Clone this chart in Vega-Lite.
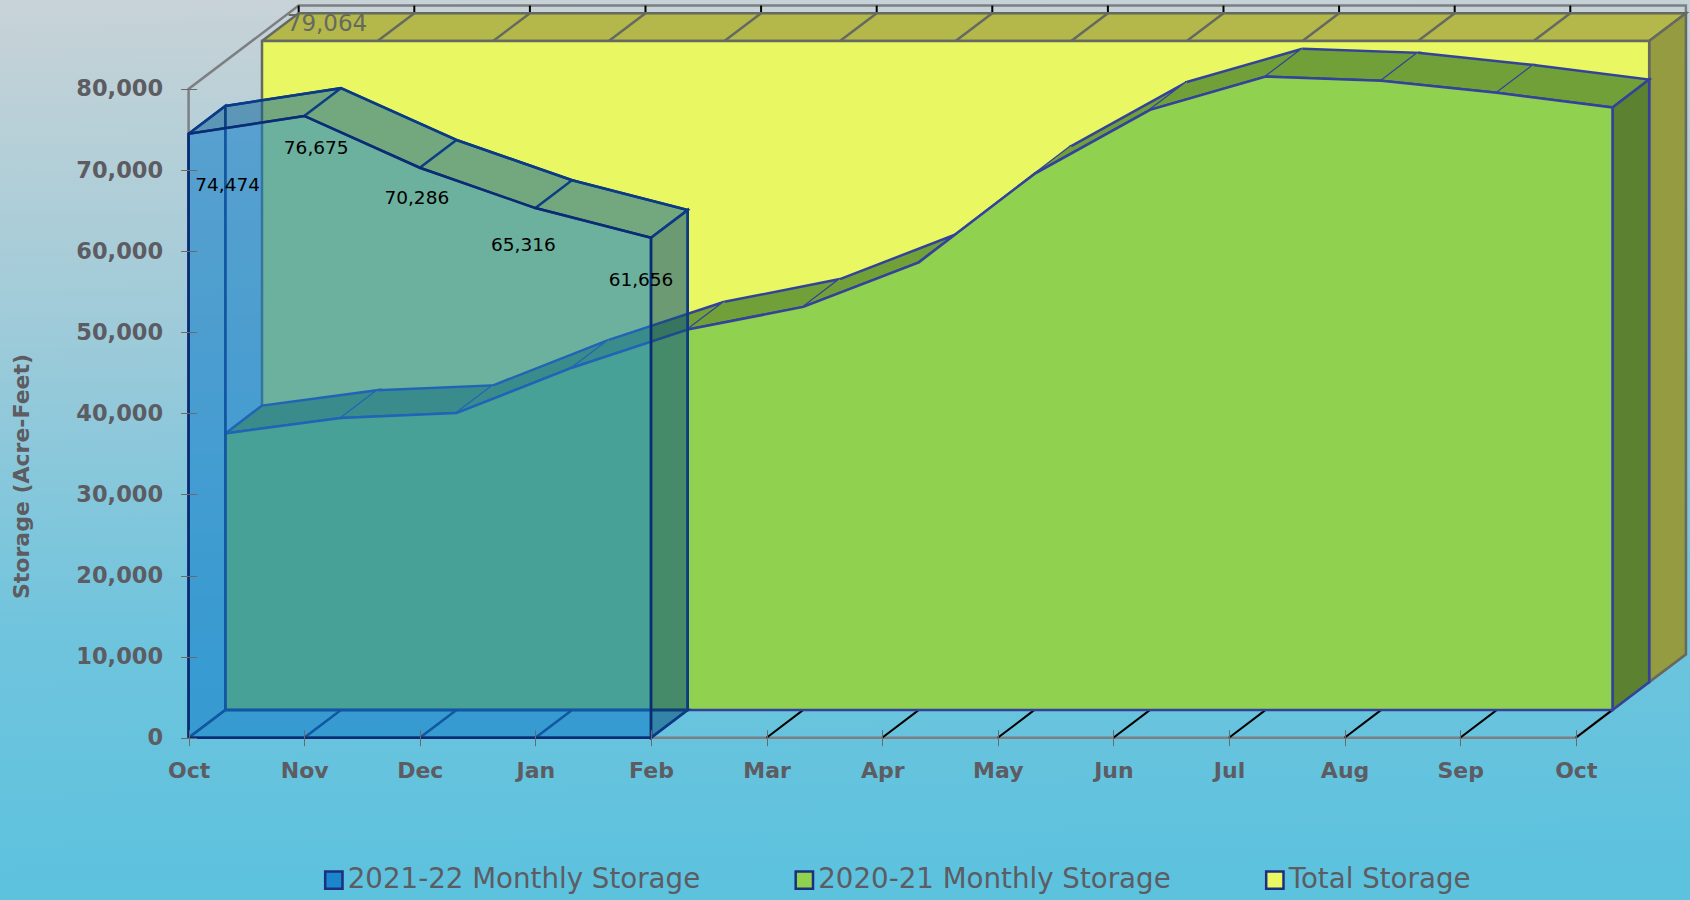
{"$schema":"https://vega.github.io/schema/vega-lite/v6.json","width":1690,"height":900,"padding":0,"autosize":"none","config":{"view":{"stroke":null},"font":"DejaVu Sans"},
"layer":[
{"data":{"values":[{}]},"mark":{"type":"rect","fill":{"gradient":"linear","x1":0,"y1":0,"x2":0.03,"y2":1,"stops":[{"offset":0,"color":"#c8d3d7"},{"offset":0.35,"color":"#a0cbd9"},{"offset":0.7,"color":"#70c4dd"},{"offset":1,"color":"#5cc2de"}]}},"encoding":{}},
{"encoding":{
"x":{"field":"px","type":"quantitative","scale":{"domain":[-1.6315,12.988],"nice":false,"zero":false},"axis":{"orient":"bottom","offset":-170.3,"zindex":1,"values":[0,1,2,3,4,5,6,7,8,9,10,11,12],"labelExpr":"['Oct','Nov','Dec','Jan','Feb','Mar','Apr','May','Jun','Jul','Aug','Sep','Oct'][datum.value]","title":null,"grid":false,"domain":false,"tickSize":16,"tickColor":"#6a6a6a","tickWidth":1,"labelFont":"DejaVu Sans","labelFontWeight":"bold","labelFontSize":22,"labelColor":"#5c5c62","labelPadding":15,"labelFlush":false,"labelOverlap":false}},
"y":{"field":"py","type":"quantitative","scale":{"domain":[-20015,90975],"nice":false,"zero":false},"axis":{"orient":"left","offset":-196.6,"zindex":1,"values":[0,10000,20000,30000,40000,50000,60000,70000,80000],"format":",d","title":"Storage (Acre-Feet)","titleX":-163,"titleY":476,"titleFont":"DejaVu Sans","titleFontWeight":"bold","titleFontSize":22,"titleColor":"#5c5c62","grid":false,"domain":false,"tickSize":16,"tickColor":"#6a6a6a","tickWidth":1,"labelFont":"DejaVu Sans","labelFontWeight":"bold","labelFontSize":22.5,"labelColor":"#5c5c62","labelPadding":18,"labelOverlap":false}},
"order":{"field":"s","type":"quantitative"},
"detail":{"field":"p"},
"fill":{"field":"f","type":"nominal","scale":{"domain":["2021-22 Monthly Storage","2020-21 Monthly Storage","Total Storage","yt","ys","gt","gs","bb","bl","bfl","bt","bs","n"],"range":["#1c86cc","#90d250","#e9f763","#b4b84b","#959b40","#72a038","#5c8231","rgba(2,111,194,0.33)","rgba(2,111,194,0.33)","rgba(2,111,194,0.33)","rgba(20,90,120,0.3)","rgba(20,70,90,0.36)","transparent"]},"legend":{"title":null,"values":["2021-22 Monthly Storage","2020-21 Monthly Storage","Total Storage"],"orient":"none","legendX":320,"legendY":866,"direction":"horizontal","columns":3,"columnPadding":89.5,"symbolType":"square","symbolSize":300,"symbolStrokeColor":"#1c2f80","symbolStrokeWidth":2.5,"symbolOpacity":1,"labelFont":"DejaVu Sans","labelFontSize":27.7,"labelColor":"#5c5c62","labelLimit":500,"labelOffset":0}}
},
"layer":[
{"transform":[{"calculate":"datum.m+datum.d*0.31747","as":"px"},{"calculate":"datum.v+datum.d*3428.4","as":"py"}],"data":{"values":[{"p":"fr","s":0,"m":0,"v":0,"d":0,"f":"n"},{"p":"fr","s":1,"m":0,"v":80000,"d":0,"f":"n"},{"p":"fr","s":2,"m":0,"v":80000,"d":3,"f":"n"},{"p":"fr","s":3,"m":12,"v":80000,"d":3,"f":"n"},{"p":"fr","s":4,"m":12,"v":0,"d":3,"f":"n"},{"p":"fr","s":5,"m":12,"v":0,"d":0,"f":"n"},{"p":"fr","s":6,"m":0,"v":0,"d":0,"f":"n"}]},"mark":{"type":"line","stroke":"#7d7f82","strokeWidth":2.5}},
{"transform":[{"calculate":"datum.m+datum.d*0.31747","as":"px"},{"calculate":"datum.v+datum.d*3428.4","as":"py"}],"data":{"values":[{"p":"t0","s":0,"m":0,"v":80000,"d":3,"f":"n"},{"p":"t0","s":1,"m":0,"v":79064,"d":3,"f":"n"},{"p":"t1","s":0,"m":1,"v":80000,"d":3,"f":"n"},{"p":"t1","s":1,"m":1,"v":79064,"d":3,"f":"n"},{"p":"t2","s":0,"m":2,"v":80000,"d":3,"f":"n"},{"p":"t2","s":1,"m":2,"v":79064,"d":3,"f":"n"},{"p":"t3","s":0,"m":3,"v":80000,"d":3,"f":"n"},{"p":"t3","s":1,"m":3,"v":79064,"d":3,"f":"n"},{"p":"t4","s":0,"m":4,"v":80000,"d":3,"f":"n"},{"p":"t4","s":1,"m":4,"v":79064,"d":3,"f":"n"},{"p":"t5","s":0,"m":5,"v":80000,"d":3,"f":"n"},{"p":"t5","s":1,"m":5,"v":79064,"d":3,"f":"n"},{"p":"t6","s":0,"m":6,"v":80000,"d":3,"f":"n"},{"p":"t6","s":1,"m":6,"v":79064,"d":3,"f":"n"},{"p":"t7","s":0,"m":7,"v":80000,"d":3,"f":"n"},{"p":"t7","s":1,"m":7,"v":79064,"d":3,"f":"n"},{"p":"t8","s":0,"m":8,"v":80000,"d":3,"f":"n"},{"p":"t8","s":1,"m":8,"v":79064,"d":3,"f":"n"},{"p":"t9","s":0,"m":9,"v":80000,"d":3,"f":"n"},{"p":"t9","s":1,"m":9,"v":79064,"d":3,"f":"n"},{"p":"t10","s":0,"m":10,"v":80000,"d":3,"f":"n"},{"p":"t10","s":1,"m":10,"v":79064,"d":3,"f":"n"},{"p":"t11","s":0,"m":11,"v":80000,"d":3,"f":"n"},{"p":"t11","s":1,"m":11,"v":79064,"d":3,"f":"n"},
{"p":"k5","s":0,"m":5,"v":0,"d":0,"f":"n"},{"p":"k5","s":1,"m":5,"v":0,"d":1,"f":"n"},{"p":"k6","s":0,"m":6,"v":0,"d":0,"f":"n"},{"p":"k6","s":1,"m":6,"v":0,"d":1,"f":"n"},{"p":"k7","s":0,"m":7,"v":0,"d":0,"f":"n"},{"p":"k7","s":1,"m":7,"v":0,"d":1,"f":"n"},{"p":"k8","s":0,"m":8,"v":0,"d":0,"f":"n"},{"p":"k8","s":1,"m":8,"v":0,"d":1,"f":"n"},{"p":"k9","s":0,"m":9,"v":0,"d":0,"f":"n"},{"p":"k9","s":1,"m":9,"v":0,"d":1,"f":"n"},{"p":"k10","s":0,"m":10,"v":0,"d":0,"f":"n"},{"p":"k10","s":1,"m":10,"v":0,"d":1,"f":"n"},{"p":"k11","s":0,"m":11,"v":0,"d":0,"f":"n"},{"p":"k11","s":1,"m":11,"v":0,"d":1,"f":"n"},{"p":"k12","s":0,"m":12,"v":0,"d":0,"f":"n"},{"p":"k12","s":1,"m":12,"v":0,"d":1,"f":"n"}]},"mark":{"type":"line","stroke":"#000000","strokeWidth":2}},
{"transform":[{"calculate":"datum.m+datum.d*0.31747","as":"px"},{"calculate":"datum.v+datum.d*3428.4","as":"py"}],"data":{"values":[{"p":"yt","s":0,"m":0,"v":79064,"d":2,"f":"yt"},{"p":"yt","s":1,"m":12,"v":79064,"d":2,"f":"yt"},{"p":"yt","s":2,"m":12,"v":79064,"d":3,"f":"yt"},{"p":"yt","s":3,"m":0,"v":79064,"d":3,"f":"yt"},{"p":"yt","s":4,"m":0,"v":79064,"d":2,"f":"yt"},
{"p":"ys","s":0,"m":12,"v":79064,"d":2,"f":"ys"},{"p":"ys","s":1,"m":12,"v":79064,"d":3,"f":"ys"},{"p":"ys","s":2,"m":12,"v":0,"d":3,"f":"ys"},{"p":"ys","s":3,"m":12,"v":0,"d":2,"f":"ys"},{"p":"ys","s":4,"m":12,"v":79064,"d":2,"f":"ys"},
{"p":"y1","s":0,"m":1,"v":79064,"d":2,"f":"n"},{"p":"y1","s":1,"m":1,"v":79064,"d":3,"f":"n"},{"p":"y2","s":0,"m":2,"v":79064,"d":2,"f":"n"},{"p":"y2","s":1,"m":2,"v":79064,"d":3,"f":"n"},{"p":"y3","s":0,"m":3,"v":79064,"d":2,"f":"n"},{"p":"y3","s":1,"m":3,"v":79064,"d":3,"f":"n"},{"p":"y4","s":0,"m":4,"v":79064,"d":2,"f":"n"},{"p":"y4","s":1,"m":4,"v":79064,"d":3,"f":"n"},{"p":"y5","s":0,"m":5,"v":79064,"d":2,"f":"n"},{"p":"y5","s":1,"m":5,"v":79064,"d":3,"f":"n"},{"p":"y6","s":0,"m":6,"v":79064,"d":2,"f":"n"},{"p":"y6","s":1,"m":6,"v":79064,"d":3,"f":"n"},{"p":"y7","s":0,"m":7,"v":79064,"d":2,"f":"n"},{"p":"y7","s":1,"m":7,"v":79064,"d":3,"f":"n"},{"p":"y8","s":0,"m":8,"v":79064,"d":2,"f":"n"},{"p":"y8","s":1,"m":8,"v":79064,"d":3,"f":"n"},{"p":"y9","s":0,"m":9,"v":79064,"d":2,"f":"n"},{"p":"y9","s":1,"m":9,"v":79064,"d":3,"f":"n"},{"p":"y10","s":0,"m":10,"v":79064,"d":2,"f":"n"},{"p":"y10","s":1,"m":10,"v":79064,"d":3,"f":"n"},{"p":"y11","s":0,"m":11,"v":79064,"d":2,"f":"n"},{"p":"y11","s":1,"m":11,"v":79064,"d":3,"f":"n"},
{"p":"yf","s":0,"m":0,"v":0,"d":2,"f":"Total Storage"},{"p":"yf","s":1,"m":0,"v":79064,"d":2,"f":"Total Storage"},{"p":"yf","s":2,"m":12,"v":79064,"d":2,"f":"Total Storage"},{"p":"yf","s":3,"m":12,"v":0,"d":2,"f":"Total Storage"},{"p":"yf","s":4,"m":0,"v":0,"d":2,"f":"Total Storage"}]},"mark":{"type":"line","stroke":"#666960","strokeWidth":2.5}},
{"transform":[{"calculate":"datum.m+datum.d*0.31747","as":"px"},{"calculate":"datum.v+datum.d*3428.4","as":"py"}],"data":{"values":[
{"p":"g0","s":0,"m":0,"v":34100,"d":1,"f":"gt"},{"p":"g0","s":1,"m":1,"v":36000,"d":1,"f":"gt"},{"p":"g0","s":2,"m":1,"v":36000,"d":2,"f":"gt"},{"p":"g0","s":3,"m":0,"v":34100,"d":2,"f":"gt"},{"p":"g0","s":4,"m":0,"v":34100,"d":1,"f":"gt"},
{"p":"g1","s":0,"m":1,"v":36000,"d":1,"f":"gt"},{"p":"g1","s":1,"m":2,"v":36600,"d":1,"f":"gt"},{"p":"g1","s":2,"m":2,"v":36600,"d":2,"f":"gt"},{"p":"g1","s":3,"m":1,"v":36000,"d":2,"f":"gt"},
{"p":"g2","s":0,"m":2,"v":36600,"d":1,"f":"gt"},{"p":"g2","s":1,"m":3,"v":42200,"d":1,"f":"gt"},{"p":"g2","s":2,"m":3,"v":42200,"d":2,"f":"gt"},{"p":"g2","s":3,"m":2,"v":36600,"d":2,"f":"gt"},
{"p":"g3","s":0,"m":3,"v":42200,"d":1,"f":"gt"},{"p":"g3","s":1,"m":4,"v":46900,"d":1,"f":"gt"},{"p":"g3","s":2,"m":4,"v":46900,"d":2,"f":"gt"},{"p":"g3","s":3,"m":3,"v":42200,"d":2,"f":"gt"},
{"p":"g4","s":0,"m":4,"v":46900,"d":1,"f":"gt"},{"p":"g4","s":1,"m":5,"v":49700,"d":1,"f":"gt"},{"p":"g4","s":2,"m":5,"v":49700,"d":2,"f":"gt"},{"p":"g4","s":3,"m":4,"v":46900,"d":2,"f":"gt"},
{"p":"g5","s":0,"m":5,"v":49700,"d":1,"f":"gt"},{"p":"g5","s":1,"m":6,"v":55200,"d":1,"f":"gt"},{"p":"g5","s":2,"m":6,"v":55200,"d":2,"f":"gt"},{"p":"g5","s":3,"m":5,"v":49700,"d":2,"f":"gt"},
{"p":"g6","s":0,"m":6,"v":55200,"d":1,"f":"gt"},{"p":"g6","s":1,"m":7,"v":66100,"d":1,"f":"gt"},{"p":"g6","s":2,"m":7,"v":66100,"d":2,"f":"gt"},{"p":"g6","s":3,"m":6,"v":55200,"d":2,"f":"gt"},
{"p":"g7","s":0,"m":7,"v":66100,"d":1,"f":"gt"},{"p":"g7","s":1,"m":8,"v":74000,"d":1,"f":"gt"},{"p":"g7","s":2,"m":8,"v":74000,"d":2,"f":"gt"},{"p":"g7","s":3,"m":7,"v":66100,"d":2,"f":"gt"},
{"p":"g8","s":0,"m":8,"v":74000,"d":1,"f":"gt"},{"p":"g8","s":1,"m":9,"v":78100,"d":1,"f":"gt"},{"p":"g8","s":2,"m":9,"v":78100,"d":2,"f":"gt"},{"p":"g8","s":3,"m":8,"v":74000,"d":2,"f":"gt"},
{"p":"g9","s":0,"m":9,"v":78100,"d":1,"f":"gt"},{"p":"g9","s":1,"m":10,"v":77600,"d":1,"f":"gt"},{"p":"g9","s":2,"m":10,"v":77600,"d":2,"f":"gt"},{"p":"g9","s":3,"m":9,"v":78100,"d":2,"f":"gt"},
{"p":"g10","s":0,"m":10,"v":77600,"d":1,"f":"gt"},{"p":"g10","s":1,"m":11,"v":76100,"d":1,"f":"gt"},{"p":"g10","s":2,"m":11,"v":76100,"d":2,"f":"gt"},{"p":"g10","s":3,"m":10,"v":77600,"d":2,"f":"gt"},
{"p":"g11","s":0,"m":11,"v":76100,"d":1,"f":"gt"},{"p":"g11","s":1,"m":12,"v":74300,"d":1,"f":"gt"},{"p":"g11","s":2,"m":12,"v":74300,"d":2,"f":"gt"},{"p":"g11","s":3,"m":11,"v":76100,"d":2,"f":"gt"},
{"p":"gs","s":0,"m":12,"v":74300,"d":1,"f":"gs"},{"p":"gs","s":1,"m":12,"v":74300,"d":2,"f":"gs"},{"p":"gs","s":2,"m":12,"v":0,"d":2,"f":"gs"},{"p":"gs","s":3,"m":12,"v":0,"d":1,"f":"gs"},{"p":"gs","s":4,"m":12,"v":74300,"d":1,"f":"gs"},
{"p":"gf","s":0,"m":0,"v":0,"d":1,"f":"2020-21 Monthly Storage"},{"p":"gf","s":1,"m":0,"v":34100,"d":1,"f":"2020-21 Monthly Storage"},{"p":"gf","s":2,"m":1,"v":36000,"d":1,"f":"2020-21 Monthly Storage"},{"p":"gf","s":3,"m":2,"v":36600,"d":1,"f":"2020-21 Monthly Storage"},{"p":"gf","s":4,"m":3,"v":42200,"d":1,"f":"2020-21 Monthly Storage"},{"p":"gf","s":5,"m":4,"v":46900,"d":1,"f":"2020-21 Monthly Storage"},{"p":"gf","s":6,"m":5,"v":49700,"d":1,"f":"2020-21 Monthly Storage"},{"p":"gf","s":7,"m":6,"v":55200,"d":1,"f":"2020-21 Monthly Storage"},{"p":"gf","s":8,"m":7,"v":66100,"d":1,"f":"2020-21 Monthly Storage"},{"p":"gf","s":9,"m":8,"v":74000,"d":1,"f":"2020-21 Monthly Storage"},{"p":"gf","s":10,"m":9,"v":78100,"d":1,"f":"2020-21 Monthly Storage"},{"p":"gf","s":11,"m":10,"v":77600,"d":1,"f":"2020-21 Monthly Storage"},{"p":"gf","s":12,"m":11,"v":76100,"d":1,"f":"2020-21 Monthly Storage"},{"p":"gf","s":13,"m":12,"v":74300,"d":1,"f":"2020-21 Monthly Storage"},{"p":"gf","s":14,"m":12,"v":0,"d":1,"f":"2020-21 Monthly Storage"},{"p":"gf","s":15,"m":0,"v":0,"d":1,"f":"2020-21 Monthly Storage"}]},"mark":{"type":"line","stroke":"#33429a","strokeWidth":2.5}},
{"transform":[{"calculate":"datum.m+datum.d*0.31747","as":"px"},{"calculate":"datum.v+datum.d*3428.4","as":"py"}],"data":{"values":[
{"p":"bb","s":0,"m":0,"v":0,"d":1,"f":"bb"},{"p":"bb","s":1,"m":0,"v":74474,"d":1,"f":"bb"},{"p":"bb","s":2,"m":1,"v":76675,"d":1,"f":"bb"},{"p":"bb","s":3,"m":2,"v":70286,"d":1,"f":"bb"},{"p":"bb","s":4,"m":3,"v":65316,"d":1,"f":"bb"},{"p":"bb","s":5,"m":4,"v":61656,"d":1,"f":"bb"},{"p":"bb","s":6,"m":4,"v":0,"d":1,"f":"bb"},{"p":"bb","s":7,"m":0,"v":0,"d":1,"f":"bb"},
{"p":"bl","s":0,"m":0,"v":0,"d":0,"f":"bl"},{"p":"bl","s":1,"m":0,"v":74474,"d":0,"f":"bl"},{"p":"bl","s":2,"m":0,"v":74474,"d":1,"f":"bl"},{"p":"bl","s":3,"m":0,"v":0,"d":1,"f":"bl"},{"p":"bl","s":4,"m":0,"v":0,"d":0,"f":"bl"},
{"p":"bfl","s":0,"m":0,"v":0,"d":0,"f":"bfl"},{"p":"bfl","s":1,"m":4,"v":0,"d":0,"f":"bfl"},{"p":"bfl","s":2,"m":4,"v":0,"d":1,"f":"bfl"},{"p":"bfl","s":3,"m":0,"v":0,"d":1,"f":"bfl"},{"p":"bfl","s":4,"m":0,"v":0,"d":0,"f":"bfl"},
{"p":"k1","s":0,"m":1,"v":0,"d":0,"f":"n"},{"p":"k1","s":1,"m":1,"v":0,"d":1,"f":"n"},{"p":"k2","s":0,"m":2,"v":0,"d":0,"f":"n"},{"p":"k2","s":1,"m":2,"v":0,"d":1,"f":"n"},{"p":"k3","s":0,"m":3,"v":0,"d":0,"f":"n"},{"p":"k3","s":1,"m":3,"v":0,"d":1,"f":"n"},
{"p":"b0","s":0,"m":0,"v":74474,"d":0,"f":"bt"},{"p":"b0","s":1,"m":1,"v":76675,"d":0,"f":"bt"},{"p":"b0","s":2,"m":1,"v":76675,"d":1,"f":"bt"},{"p":"b0","s":3,"m":0,"v":74474,"d":1,"f":"bt"},{"p":"b0","s":4,"m":0,"v":74474,"d":0,"f":"bt"},
{"p":"b1","s":0,"m":1,"v":76675,"d":0,"f":"bt"},{"p":"b1","s":1,"m":2,"v":70286,"d":0,"f":"bt"},{"p":"b1","s":2,"m":2,"v":70286,"d":1,"f":"bt"},{"p":"b1","s":3,"m":1,"v":76675,"d":1,"f":"bt"},
{"p":"b2","s":0,"m":2,"v":70286,"d":0,"f":"bt"},{"p":"b2","s":1,"m":3,"v":65316,"d":0,"f":"bt"},{"p":"b2","s":2,"m":3,"v":65316,"d":1,"f":"bt"},{"p":"b2","s":3,"m":2,"v":70286,"d":1,"f":"bt"},
{"p":"b3","s":0,"m":3,"v":65316,"d":0,"f":"bt"},{"p":"b3","s":1,"m":4,"v":61656,"d":0,"f":"bt"},{"p":"b3","s":2,"m":4,"v":61656,"d":1,"f":"bt"},{"p":"b3","s":3,"m":3,"v":65316,"d":1,"f":"bt"},
{"p":"bs","s":0,"m":4,"v":61656,"d":0,"f":"bs"},{"p":"bs","s":1,"m":4,"v":61656,"d":1,"f":"bs"},{"p":"bs","s":2,"m":4,"v":0,"d":1,"f":"bs"},{"p":"bs","s":3,"m":4,"v":0,"d":0,"f":"bs"},{"p":"bs","s":4,"m":4,"v":61656,"d":0,"f":"bs"}]},"mark":{"type":"line","stroke":"#0b3a86","strokeWidth":2.5}},
{"transform":[{"calculate":"datum.m+datum.d*0.31747","as":"px"},{"calculate":"datum.v+datum.d*3428.4","as":"py"}],"data":{"values":[{"p":"bf","s":0,"m":0,"v":0,"d":0,"f":"2021-22 Monthly Storage"},{"p":"bf","s":1,"m":0,"v":74474,"d":0,"f":"2021-22 Monthly Storage"},{"p":"bf","s":2,"m":1,"v":76675,"d":0,"f":"2021-22 Monthly Storage"},{"p":"bf","s":3,"m":2,"v":70286,"d":0,"f":"2021-22 Monthly Storage"},{"p":"bf","s":4,"m":3,"v":65316,"d":0,"f":"2021-22 Monthly Storage"},{"p":"bf","s":5,"m":4,"v":61656,"d":0,"f":"2021-22 Monthly Storage"},{"p":"bf","s":6,"m":4,"v":0,"d":0,"f":"2021-22 Monthly Storage"},{"p":"bf","s":7,"m":0,"v":0,"d":0,"f":"2021-22 Monthly Storage"}]},"mark":{"type":"line","stroke":"#0b2c72","strokeWidth":2.5,"fillOpacity":0.38}},
{"transform":[{"calculate":"datum.m+datum.d*0.31747","as":"px"},{"calculate":"datum.v+datum.d*3428.4","as":"py"}],"data":{"values":[{"m":0,"v":79064,"d":2}]},"mark":{"type":"text","dx":65,"dy":-17,"fontSize":23},"encoding":{"text":{"field":"v","format":",d"},"fill":{"value":"#666960"}}},
{"transform":[{"calculate":"datum.m+datum.d*0.31747","as":"px"},{"calculate":"datum.v+datum.d*3428.4","as":"py"}],"data":{"values":[{"m":0,"v":74474,"d":0}]},"mark":{"type":"text","dx":39,"dy":51,"fontSize":18.5},"encoding":{"text":{"field":"v","format":",d"},"fill":{"value":"#000"}}},
{"transform":[{"calculate":"datum.m+datum.d*0.31747","as":"px"},{"calculate":"datum.v+datum.d*3428.4","as":"py"}],"data":{"values":[{"m":1,"v":76675,"d":0}]},"mark":{"type":"text","dx":12,"dy":32,"fontSize":18.5},"encoding":{"text":{"field":"v","format":",d"},"fill":{"value":"#000"}}},
{"transform":[{"calculate":"datum.m+datum.d*0.31747","as":"px"},{"calculate":"datum.v+datum.d*3428.4","as":"py"}],"data":{"values":[{"m":2,"v":70286,"d":0}]},"mark":{"type":"text","dx":-3,"dy":30,"fontSize":18.5},"encoding":{"text":{"field":"v","format":",d"},"fill":{"value":"#000"}}},
{"transform":[{"calculate":"datum.m+datum.d*0.31747","as":"px"},{"calculate":"datum.v+datum.d*3428.4","as":"py"}],"data":{"values":[{"m":3,"v":65316,"d":0}]},"mark":{"type":"text","dx":-12,"dy":37,"fontSize":18.5},"encoding":{"text":{"field":"v","format":",d"},"fill":{"value":"#000"}}},
{"transform":[{"calculate":"datum.m+datum.d*0.31747","as":"px"},{"calculate":"datum.v+datum.d*3428.4","as":"py"}],"data":{"values":[{"m":4,"v":61656,"d":0}]},"mark":{"type":"text","dx":-10,"dy":42,"fontSize":18.5},"encoding":{"text":{"field":"v","format":",d"},"fill":{"value":"#000"}}}
]}
]}
